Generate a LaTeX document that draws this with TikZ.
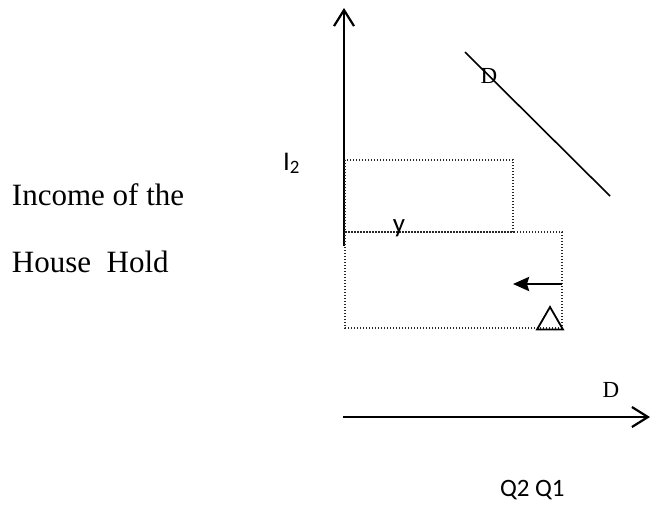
\documentclass[tikz,border=0pt]{standalone}
\usepackage{fontspec}
\setmainfont{Liberation Serif}
\newfontfamily\calfont{Carlito}
\usetikzlibrary{arrows.meta,shapes.geometric}

\begin{document}
\begin{tikzpicture}[x=1pt, y=-1pt,
                    axis/.style={line width=2.4pt, -{Straight Barb[length=16pt,width=20pt,line width=2.2pt]}},
                    dotbox/.style={line width=1.1pt, dash pattern=on 1.1pt off 1.9pt, draw=black!85},
                    movearrow/.style={line width=2.8pt, -{Stealth[length=16pt,width=14pt,inset=2pt]}},
                    curve/.style={line width=1.6pt},
                    lbl/.style={inner sep=0pt, outer sep=0pt},
                    tri/.style={draw, regular polygon, regular polygon sides=3, minimum size=30pt, inner sep=0pt, outer sep=0pt, line width=1.8pt}
                ]
    \useasboundingbox (0,0) rectangle (652,504);

    % Axes et courbe D
    \coordinate (origin) at (344,246);
    \coordinate (ytop) at (344,8);
    \coordinate (xleft) at (343,417);
    \coordinate (xright) at (650,417);
    \coordinate (dstart) at (465,52);
    \coordinate (dend) at (610,196);
    \draw[axis] (origin) -- (ytop);
    \draw[axis] (xleft) -- (xright);
    \draw[curve] (dstart) -- (dend);

    % Rectangles en pointilles
    \coordinate (boxa) at (345,160);
    \coordinate (boxb) at (513,232);
    \coordinate (boxc) at (345,232);
    \coordinate (boxd) at (562,328);
    \draw[dotbox] (boxa) rectangle (boxb);
    \draw[dotbox] (boxc) rectangle (boxd);

    % Fleche et triangle
    \coordinate (movefrom) at (562,284);
    \coordinate (moveto) at (513,284);
    \draw[movearrow] (movefrom) -- (moveto);
    \node[tri] (delta) at (550,322) {};

    % Textes
    \node[lbl, anchor=base west, font=\fontsize{31}{36}\selectfont] (income) at (12,205) {Income of the};
    \node[lbl, anchor=base west, font=\fontsize{31}{36}\selectfont] (house) at (12,272) {House\ \ Hold};
    \node[lbl, anchor=base west, font=\calfont\fontsize{27}{32}\selectfont] (itwo) at (283,170) {I\textsubscript{2}};
    \node[lbl, anchor=base, font=\calfont\fontsize{27}{32}\selectfont] (ylbl) at (399,232) {y};
    \node[lbl, anchor=base, font=\fontsize{23}{28}\selectfont] (dtop) at (489,83) {D};
    \node[lbl, anchor=base, font=\fontsize{23}{28}\selectfont] (dbot) at (611,397) {D};
    \node[lbl, anchor=base west, font=\calfont\fontsize{25}{30}\selectfont] (qlbl) at (500,496) {Q2 Q1};
\end{tikzpicture}
\end{document}
